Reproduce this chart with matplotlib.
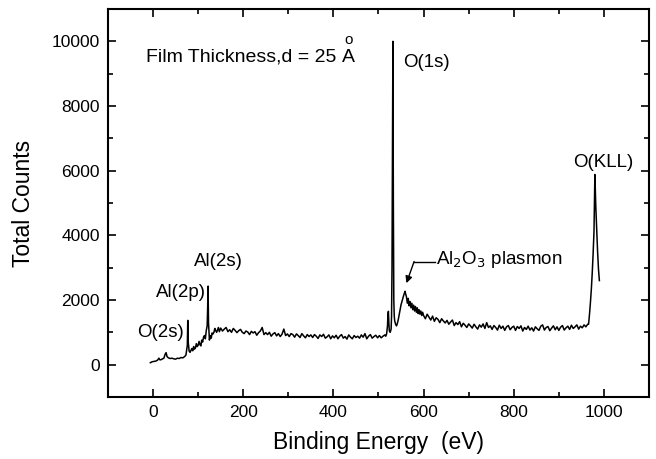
import numpy as np
import matplotlib
matplotlib.use("Agg")
import matplotlib.pyplot as plt
from matplotlib.ticker import MultipleLocator

plt.rcParams['font.family'] = ['Liberation Sans', 'DejaVu Sans']

# ---- data ----
# low-energy region (O 2s, Al 2p, Al 2s)
x_low = [-6, -2, 2, 6, 10, 13, 15, 17, 20, 24,
         27, 29, 31, 34, 38, 42, 46, 50, 54, 58,
         62, 66, 70, 73, 76, 77, 78, 80, 82, 84,
         86, 88, 90, 92, 94, 96, 98, 100, 102, 104,
         106, 108, 110, 112, 114, 116, 118, 120, 121, 122,
         123, 125, 127, 129, 131, 133, 135, 137, 139, 141,
         143, 145, 147]
y_low = [60, 90, 100, 110, 140, 200, 150, 150, 170, 200,
         330, 370, 250, 210, 190, 200, 180, 170, 200, 190,
         220, 210, 250, 300, 600, 1370, 700, 420, 380, 440,
         500, 430, 560, 480, 520, 650, 560, 600, 720, 620,
         580, 760, 700, 850, 900, 800, 1050, 1200, 1700, 2430,
         1300, 760, 900, 820, 980, 950, 1000, 1120, 1050, 1000,
         1080, 1150, 1020]

# flat background 150-514 eV, 4 eV steps
x_bg1 = np.arange(150, 515, 4)
y_bg1 = [1130, 1040, 1100, 1150, 1020, 1080, 1000, 1120, 1060, 990, 1050, 1090, 1000,
         960, 1040, 1010, 930, 1030, 980, 1020, 910, 990, 1040, 1150, 930, 990,
         930, 1000, 880, 950, 990, 890, 960, 870, 940, 1100, 900, 950,
         870, 960, 930, 850, 950, 900, 840, 960, 890, 830, 930, 870, 920,
         840, 930, 880, 810, 920, 870, 940, 820, 860, 920, 800, 890,
         830, 910, 800, 880, 930, 820, 870, 790, 920, 850, 800, 900, 840,
         880, 820, 920, 850, 960, 800, 880, 930, 820, 870, 910, 830,
         900, 830, 880, 920]

# O 1s and Al2O3 plasmon region
x_o1s = [516, 518, 520, 521, 522, 523, 524, 526, 528, 529,
         530, 531, 532, 533, 534, 535, 536, 538, 540, 542,
         544, 546, 548, 550, 552, 554, 556, 558, 559, 560,
         562, 564, 566, 568, 570, 572, 574, 576, 578, 580,
         582, 584, 586, 588, 590, 592, 594, 596, 598]
y_o1s = [880, 950, 1200, 1550, 1650, 1300, 1050, 1000, 1100, 1500,
         3000, 6500, 10000, 5000, 2000, 1500, 1350, 1250, 1200, 1280,
         1400, 1550, 1700, 1850, 1950, 2050, 2150, 2230, 2270, 2200,
         2100, 1900, 2050, 1820, 1950, 1760, 1900, 1700, 1840, 1660,
         1800, 1620, 1760, 1580, 1700, 1560, 1660, 1520, 1620]

# background 600-964 eV, 4 eV steps
x_bg2 = np.arange(600, 965, 4)
y_bg2 = [1520, 1420, 1560, 1470, 1380, 1500, 1340, 1450, 1400, 1300, 1420, 1350, 1290,
         1370, 1250, 1320, 1380, 1210, 1300, 1240, 1330, 1170, 1280, 1220, 1150, 1260,
         1200, 1130, 1250, 1170, 1100, 1230, 1160, 1260, 1120, 1300, 1150, 1200,
         1090, 1210, 1150, 1070, 1220, 1120, 1190, 1060, 1170, 1210, 1080, 1150, 1190,
         1060, 1180, 1120, 1200, 1040, 1150, 1090, 1190, 1070, 1140, 1040, 1170,
         1110, 1060, 1190, 1230, 1070, 1150, 1180, 1050, 1130, 1200, 1080, 1170, 1060,
         1160, 1210, 1070, 1140, 1190, 1090, 1220, 1120, 1170, 1230, 1100, 1190,
         1140, 1230, 1170, 1250]

# O KLL Auger region
x_kll = [966, 968, 970, 972, 974, 976, 978, 979, 980, 981, 982, 984, 986, 988, 990]
y_kll = [1250, 1550, 1900, 2300, 2800, 3400, 4100, 4900, 5880, 5400, 4900, 4200, 3500, 2950, 2600]

energy = np.concatenate([x_low, x_bg1, x_o1s, x_bg2, x_kll])
counts = np.concatenate([y_low, y_bg1, y_o1s, y_bg2, y_kll])

# ---- figure ----
fig = plt.figure(figsize=(6.56, 4.59), dpi=100)
ax = fig.add_axes([0.1646, 0.1351, 0.8247, 0.8453])
ax.plot(energy, counts, color='black', lw=1.1)

ax.set_xlim(-100, 1100)
ax.set_ylim(-1000, 11000)
ax.xaxis.set_major_locator(MultipleLocator(200))
ax.xaxis.set_minor_locator(MultipleLocator(100))
ax.yaxis.set_major_locator(MultipleLocator(2000))
ax.yaxis.set_minor_locator(MultipleLocator(1000))
ax.tick_params(which='both', direction='in', top=True, right=True, width=1.2,
               labelsize=12.5, pad=6)
ax.tick_params(which='major', length=6)
ax.tick_params(which='minor', length=3.5)
for s in ax.spines.values():
    s.set_linewidth(1.5)

ax.set_xlabel('Binding Energy  (eV)', fontsize=16.5, labelpad=8)
ax.set_ylabel('Total Counts', fontsize=16.5, labelpad=12)

fs = 13.5
ax.text(-15, 9500, 'Film Thickness,d = 25', fontsize=14, ha='left', va='center')
ax.text(419, 9500, 'A', fontsize=14, ha='left', va='center')
ax.text(434, 10030, 'o', fontsize=11, ha='center', va='center')
ax.text(555, 9360, 'O(1s)', fontsize=fs, ha='left', va='center')
ax.text(932, 6260, 'O(KLL)', fontsize=fs, ha='left', va='center')
ax.text(90, 3190, 'Al(2s)', fontsize=fs, ha='left', va='center')
ax.text(7, 2230, 'Al(2p)', fontsize=fs, ha='left', va='center')
ax.text(-35, 990, 'O(2s)', fontsize=fs, ha='left', va='center')
ax.text(628, 3250, r'Al$_2$O$_3$ plasmon', fontsize=fs, ha='left', va='center')
ax.plot([579, 625], [3190, 3190], color='black', lw=1.0)
ax.annotate('', xy=(562, 2520), xytext=(579, 3190),
            arrowprops=dict(arrowstyle='-|>', color='black', lw=1.0,
                            mutation_scale=10, shrinkA=0, shrinkB=0))

fig.savefig('out.png', dpi=100)
